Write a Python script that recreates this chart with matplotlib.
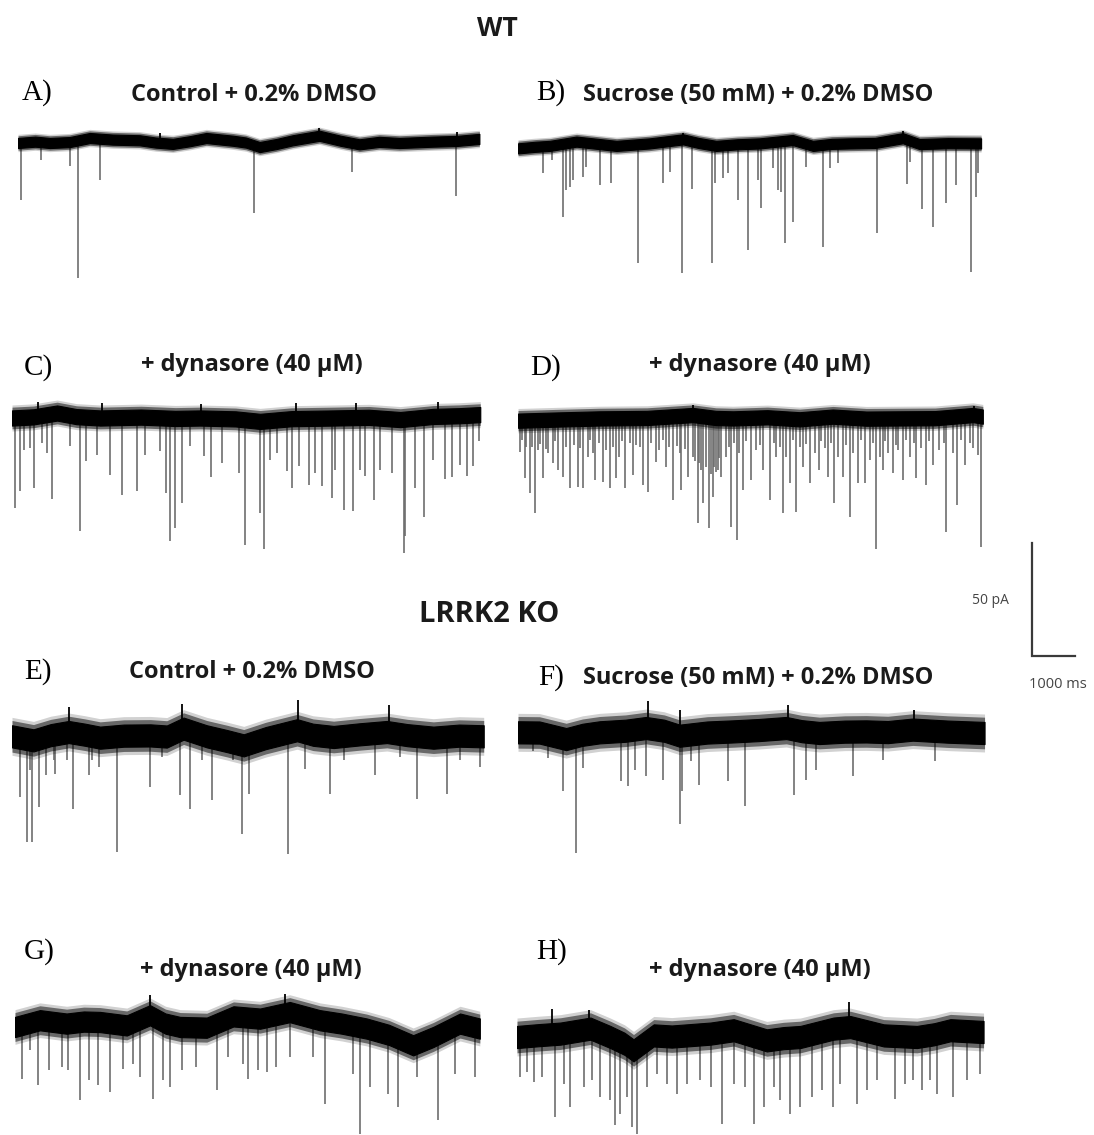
import numpy as np
import matplotlib
matplotlib.use("Agg")
import matplotlib.pyplot as plt

W, H = 1094, 1135
PX_PER_S = 43.0     # 1000 ms scale bar length in pixels
PX_PER_PA = 2.26    # 50 pA scale bar length / 50

# ---- data (time in s, current in pA) ----
# baseline drift (t, pA), noise half-width, events (t, depth), upward blips (t, height)
a_drift_t = [0, 0.4, 0.74, 1.2, 1.67, 2.2, 2.83, 3.2, 3.60, 4.0, 4.38, 5.0, 5.3, 5.62, 6.0,
             6.39, 7.01, 7.5, 7.94, 8.4, 8.87, 9.65, 10.2, 10.73]
a_drift_v = [0, 0.6, 0, 0.4, 2.2, 1.5, 1.2, 0.2, -0.4, 0.8, 2.2, 1.0, 0.2, -1.8, -0.5,
             1.2, 3.2, 1.0, -0.6, 0.5, 0, 0.6, 0.9, 1.8]
a_ev_t = [0.08, 0.54, 1.20, 1.40, 1.90, 5.48, 7.77, 10.19]
a_ev_amp = [25.1, 7.4, 10.3, 59.7, 16.5, 31.0, 13.0, 23.3]
a_up_t = [3.3, 7.0, 10.2]
a_up_amp = [4.5, 6.5, 5.0]

b_drift_t = [0, 0.4, 0.74, 1.36, 1.8, 2.29, 3.06, 3.84, 4.2, 4.61, 5.1, 5.62, 6.39, 6.86,
             7.3, 7.71, 8.3, 8.95, 9.34, 10.0, 10.77]
b_drift_v = [-1.5, -0.8, -0.4, 1.5, 0.6, -0.4, 0.7, 2.5, 0.9, -0.4, 0.3, 0.7, 2.2, -0.4,
             0.5, 0.7, 0.9, 3.0, 0.4, 0.8, 0.7]
b_ev_t = [0.58, 0.78, 1.05, 1.12, 1.20, 1.28, 1.51, 1.59, 1.90, 2.17, 2.79, 3.37, 3.53, 3.82,
          4.05, 4.50, 4.57, 4.77, 4.88, 5.12, 5.35, 5.58, 5.66, 5.93, 6.05, 6.12, 6.20, 6.39,
          6.70, 7.09, 7.25, 7.44, 8.35, 9.04, 9.12, 9.40, 9.64, 9.96, 10.19, 10.54, 10.64, 10.70]
b_ev_amp = [12.5, 6.6, 31.7, 19.9, 18.4, 15.5, 14.0, 9.6, 17.7, 16.7, 52.1, 17.0, 11.8, 56.8,
            19.6, 52.4, 17.0, 14.8, 12.5, 24.3, 46.5, 15.5, 28.0, 10.3, 19.9, 20.7, 43.5, 33.9,
            9.6, 45.3, 10.3, 8.1, 39.1, 17.3, 7.4, 28.5, 36.4, 25.5, 17.7, 56.1, 22.9, 12.5]
b_up_t = [3.84, 8.95]
b_up_amp = [5.5, 6.0]

c_drift_t = [0, 0.5, 1.05, 1.5, 2.05, 3.0, 3.8, 4.38, 5.2, 5.77, 6.5, 7.48, 8.3, 9.03,
             9.80, 10.4, 10.89]
c_drift_v = [0, 0.5, 2.2, 0.6, 0, 0.4, -0.2, 0, -0.4, -1.5, -0.3, 0, 0.3, -0.7,
             0.7, 1.0, 1.5]
c_ev_t = [0.08, 0.19, 0.27, 0.43, 0.50, 0.70, 0.81, 0.93, 1.36, 1.59, 1.71, 1.98, 2.29, 2.56,
          2.91, 3.10, 3.45, 3.57, 3.68, 3.80, 3.95, 4.15, 4.46, 4.63, 4.88, 5.27, 5.43, 5.77,
          5.85, 6.01, 6.16, 6.39, 6.51, 6.67, 6.90, 7.05, 7.21, 7.44, 7.52, 7.71, 7.94, 8.10,
          8.22, 8.41, 8.56, 8.84, 9.11, 9.15, 9.38, 9.57, 9.80, 10.08, 10.23, 10.42, 10.58,
          10.73, 10.85]
c_ev_amp = [39.8, 32.5, 14.0, 13.3, 31.0, 11.1, 15.5, 35.8, 12.5, 50.2, 19.2, 16.2, 25.1, 33.9,
            32.5, 16.2, 14.8, 33.2, 54.6, 48.7, 37.6, 12.5, 17.0, 26.1, 19.9, 24.3, 56.1, 42.0,
            58.0, 18.4, 15.5, 23.6, 31.0, 21.4, 29.5, 24.3, 30.2, 35.4, 22.9, 40.6, 41.3, 22.9,
            25.8, 36.1, 22.9, 24.3, 59.7, 52.4, 31.0, 43.8, 18.4, 27.0, 26.1, 20.7, 25.8,
            21.4, 10.3]
c_up_t = [0.6, 2.1, 4.4, 6.6, 8.0, 9.9]
c_up_amp = [7.0, 6.5, 6.0, 6.5, 6.5, 7.0]

d_drift_t = [0, 0.9, 1.9, 3.0, 4.07, 4.6, 5.0, 5.8, 6.55, 7.32, 8.1, 8.87, 9.7, 10.58, 10.81]
d_drift_v = [-0.3, 0.2, 0.7, 0.9, 2.2, 0.9, 0.7, 1.2, 0.3, 1.5, 0.6, 0.7, 0.8, 2.2, 1.5]
d_ev_t = [0.04, 0.16, 0.27, 0.39, 0.58, 0.81, 0.93, 1.05, 1.20, 1.40, 1.51, 1.63, 1.78, 1.98,
          2.13, 2.29, 2.48, 2.67, 2.91, 3.02, 3.22, 3.45, 3.60, 3.80, 3.95, 4.19, 4.30, 4.44,
          4.53, 4.65, 4.96, 5.09, 5.23, 5.43, 5.70, 5.85, 6.16, 6.32, 6.46, 6.63, 6.78, 7.01,
          7.21, 7.34, 7.56, 7.73, 7.91, 8.06, 8.33, 8.49, 8.72, 8.95, 9.26, 9.48, 9.65, 9.96,
          10.21, 10.39, 10.58, 10.77,
          0.19, 0.47, 0.70, 1.12, 1.74, 2.05, 2.36, 2.60, 2.83, 3.29, 3.76, 4.07, 4.22, 4.38,
          4.60, 4.73, 4.84, 5.15, 5.54, 6.01, 6.24, 6.55, 6.90, 7.13, 7.44, 7.79, 8.18, 8.41,
          8.60, 8.84, 9.11, 9.38, 9.80, 10.11, 10.50, 10.70,
          0.10, 0.33, 0.52, 0.64, 0.87, 1.30, 1.45, 1.68, 1.88, 2.20, 2.42, 2.75, 3.10, 3.38,
          3.52, 3.70, 3.88, 4.12, 4.26, 4.48, 4.56, 4.68, 4.90, 5.02, 5.30, 5.62, 5.95, 6.10,
          6.40, 6.70, 7.05, 7.28, 7.62, 7.97, 8.25, 8.54, 8.78, 9.02, 9.20, 9.55, 9.90, 10.30]
d_ev_amp = [14.0, 25.8, 32.5, 41.3, 25.8, 19.2, 22.1, 25.1, 30.2, 29.5, 30.2, 16.2, 26.6, 27.3,
            30.2, 25.8, 30.2, 24.3, 28.8, 31.7, 18.4, 20.7, 35.4, 31.0, 25.1, 45.7, 36.9, 47.9,
            33.9, 22.1, 47.2, 53.1, 31.0, 26.6, 22.1, 35.4, 41.3, 28.0, 40.6, 20.7, 28.0, 22.1,
            25.1, 36.9, 25.1, 42.8, 28.0, 28.0, 57.2, 22.1, 23.6, 26.6, 25.8, 28.8, 19.9, 49.4,
            37.6, 19.9, 12.5, 56.1,
            11.8, 13.3, 14.8, 11.8, 14.8, 13.3, 16.2, 10.3, 11.8, 13.3, 14.8, 16.2, 19.2, 20.7,
            22.9, 25.1, 16.2, 14.8, 13.3, 16.2, 16.2, 11.8, 14.8, 12.5, 16.2, 14.8, 17.7, 16.2,
            14.8, 13.3, 16.2, 12.5, 13.3, 14.8, 10.3, 15.5,
            9.0, 12.0, 10.5, 13.0, 9.5, 11.0, 12.5, 9.0, 10.0, 12.0, 9.5, 11.0, 10.0, 9.0,
            12.0, 11.5, 13.0, 18.0, 22.0, 24.0, 21.0, 17.0, 12.0, 10.0, 9.5, 11.0, 10.0, 12.0,
            9.0, 10.5, 9.5, 10.0, 11.0, 9.0, 10.0, 9.5, 11.0, 9.0, 10.0, 9.5, 10.0, 9.0]
d_up_t = [4.07, 10.6]
d_up_amp = [6.5, 6.0]

e_drift_t = [0, 0.5, 0.9, 1.32, 1.7, 2.05, 2.6, 3.22, 3.6, 3.99, 4.53, 5.0, 5.39, 5.9,
             6.63, 7.0, 7.48, 8.1, 8.72, 9.2, 9.80, 10.4, 10.97]
e_drift_v = [0.3, -1.5, 0.8, 2.2, 1.0, -0.3, 0.6, 0.7, 0.2, 3.7, 0.3, -1.8, -3.7, -0.5,
             3.0, 1.0, 0, 1.2, 2.2, 0.8, -0.3, 0.6, 0.3]
e_ev_t = [0.19, 0.35, 0.43, 0.47, 0.62, 0.78, 1.01, 1.43, 1.78, 2.02, 2.44, 3.22, 3.91, 4.15,
          4.65, 5.35, 5.50, 6.43, 6.82, 7.40, 8.45, 9.42, 10.11, 10.89,
          0.97, 1.28, 1.86, 3.49, 4.42, 5.15, 7.71, 9.03, 10.42]
e_ev_amp = [26.6, 46.5, 14.8, 46.5, 31.0, 17.0, 16.2, 31.7, 17.0, 13.3, 50.9, 22.1, 25.8, 31.7,
            28.0, 42.8, 25.1, 51.6, 14.0, 25.1, 17.0, 27.3, 25.1, 13.3,
            10.3, 10.3, 10.3, 8.9, 10.3, 10.3, 10.3, 8.9, 10.3]
e_up_t = [1.32, 3.95, 6.65, 8.76]
e_up_amp = [13.3, 14.8, 16.2, 14.0]

f_drift_t = [0, 0.5, 1.12, 1.5, 1.90, 2.5, 2.98, 3.4, 3.76, 4.4, 5.0, 5.6, 6.24, 6.6,
             7.01, 7.6, 8.1, 8.6, 9.18, 10.0, 10.85]
f_drift_v = [0.3, 0.2, -2.7, -0.8, 0.3, 1.0, 2.2, 1.0, -1.2, 0.2, 0.7, 1.3, 2.2, 0.8,
             0, 0.6, 0.7, 0.4, 1.5, 0.6, 0]
f_ev_t = [0.35, 0.70, 1.05, 1.34, 1.51, 2.40, 2.56, 2.71, 2.98, 3.37, 3.76, 3.82, 4.03, 4.22,
          4.88, 5.27, 6.43, 6.70, 6.92, 7.79, 8.49, 9.69]
f_ev_amp = [8.1, 11.1, 25.8, 53.1, 15.5, 21.4, 23.6, 16.2, 19.2, 20.7, 40.1, 25.8, 12.5, 22.9,
            21.4, 32.5, 27.3, 20.7, 16.2, 19.2, 11.8, 12.5]
f_up_t = [3.02, 3.76, 6.28, 9.22]
f_up_amp = [14.0, 10.3, 12.5, 10.3]

g_drift_t = [0, 0.58, 1.2, 1.6, 1.98, 2.6, 3.14, 3.5, 3.84, 4.46, 5.08, 5.7, 6.39, 7.09,
             7.6, 8.18, 8.7, 9.26, 9.73, 10.35, 10.81]
g_drift_v = [0, 3.0, 1.5, 2.4, 2.2, 0.7, 5.2, 1.5, 0, -0.3, 4.7, 3.7, 6.6, 3.0,
             1.5, -0.7, -3.5, -8.1, -4.4, 1.5, -0.7]
g_ev_t = [0.16, 0.35, 0.54, 0.78, 1.09, 1.24, 1.51, 1.71, 1.94, 2.21, 2.52, 2.75, 2.91, 3.20,
          3.45, 3.60, 3.88, 4.22, 4.69, 4.96, 5.31, 5.43, 5.66, 5.85, 6.08, 6.39, 6.94, 7.21,
          7.87, 8.02, 8.25, 8.68, 8.91, 9.34, 9.84, 10.23, 10.70]
g_ev_amp = [22.9, 10.3, 25.8, 19.2, 17.7, 19.2, 32.5, 23.6, 25.8, 28.8, 18.4, 16.2, 22.1, 31.7,
            23.6, 26.6, 19.2, 17.7, 28.0, 13.3, 16.2, 22.9, 19.2, 19.9, 17.7, 13.3, 13.3, 33.9,
            20.7, 47.2, 26.6, 29.5, 35.4, 22.1, 41.3, 20.7, 22.1]
g_up_t = [3.14, 6.28]
g_up_amp = [14.0, 14.8]

h_drift_t = [0, 0.5, 1.01, 1.71, 2.17, 2.5, 2.71, 3.18, 3.6, 3.95, 4.5, 5.04, 5.81, 6.2,
             6.59, 7.36, 7.75, 8.53, 9.3, 9.7, 10.08, 10.85]
h_drift_v = [0, 0.8, 1.5, 3.7, 0, -3.0, -5.9, 0.7, 0.2, 0.7, 1.5, 3.0, -1.5, -0.5,
             0, 3.7, 4.4, 0.7, 0, 1.2, 3.0, 2.2]
h_ev_t = [0.08, 0.23, 0.39, 0.58, 0.89, 1.09, 1.24, 1.55, 1.74, 1.94, 2.17, 2.29, 2.40, 2.56,
          2.67, 2.79, 3.02, 3.26, 3.49, 3.72, 3.95, 4.26, 4.50, 4.77, 5.04, 5.31, 5.50, 5.74,
          5.97, 6.12, 6.36, 6.59, 6.86, 7.09, 7.36, 7.52, 7.91, 8.14, 8.37, 8.80, 9.03, 9.22,
          9.42, 9.61, 9.77, 10.15, 10.46, 10.77]
h_ev_amp = [17.7, 15.5, 19.9, 17.7, 35.4, 20.7, 31.0, 22.1, 19.2, 26.6, 28.0, 39.1, 33.9, 26.6,
            39.8, 42.8, 22.1, 16.2, 20.7, 25.1, 20.7, 19.2, 22.1, 38.4, 20.7, 22.1, 38.4, 31.0,
            22.1, 28.0, 33.9, 31.0, 26.6, 23.6, 31.0, 20.7, 29.5, 23.6, 19.2, 27.3, 20.7, 19.2,
            23.6, 19.2, 25.1, 26.6, 19.2, 16.2]
h_up_t = [0.81, 1.67, 7.71]
h_up_amp = [12.5, 11.8, 15.5]

noise = {"A": 3.2, "B": 3.2, "C": 4.8, "D": 4.5, "E": 7.0, "F": 7.0, "G": 6.4, "H": 7.0}

letters = ["A)", "B)", "C)", "D)", "E)", "F)", "G)", "H)"]
subtitles = ["Control + 0.2% DMSO", "Sucrose (50 mM) + 0.2% DMSO",
             "+ dynasore (40 \u00b5M)", "+ dynasore (40 \u00b5M)",
             "Control + 0.2% DMSO", "Sucrose (50 mM) + 0.2% DMSO",
             "+ dynasore (40 \u00b5M)", "+ dynasore (40 \u00b5M)"]

traces = {
    "A": (a_drift_t, a_drift_v, a_ev_t, a_ev_amp, a_up_t, a_up_amp),
    "B": (b_drift_t, b_drift_v, b_ev_t, b_ev_amp, b_up_t, b_up_amp),
    "C": (c_drift_t, c_drift_v, c_ev_t, c_ev_amp, c_up_t, c_up_amp),
    "D": (d_drift_t, d_drift_v, d_ev_t, d_ev_amp, d_up_t, d_up_amp),
    "E": (e_drift_t, e_drift_v, e_ev_t, e_ev_amp, e_up_t, e_up_amp),
    "F": (f_drift_t, f_drift_v, f_ev_t, f_ev_amp, f_up_t, f_up_amp),
    "G": (g_drift_t, g_drift_v, g_ev_t, g_ev_amp, g_up_t, g_up_amp),
    "H": (h_drift_t, h_drift_v, h_ev_t, h_ev_amp, h_up_t, h_up_amp),
}

# layout: trace start x and baseline y in pixels
trace_pos = {"A": (18, 143), "B": (518, 145), "C": (12, 418), "D": (518, 420),
             "E": (12, 737), "F": (518, 733), "G": (15, 1027), "H": (517, 1037)}
letter_pos = [(22, 93), (536, 93), (24, 368), (530, 368),
              (24, 672), (538, 678), (24, 952), (536, 952)]
sub_pos = [(254, 95), (758, 95), (252, 365), (760, 365),
           (252, 672), (758, 678), (251, 970), (760, 970)]

fig = plt.figure(figsize=(W / 100, H / 100), dpi=100)
fig.patch.set_facecolor("white")


def px_axes(left, top, width, height):
    ax = fig.add_axes([left / W, 1 - (top + height) / H, width / W, height / H])
    ax.set_axis_off()
    return ax


def ftext(x, y, s, **kw):
    fig.text(x / W, 1 - y / H, s, **kw)


above, below = 45, 160
for key, (dt, dv, et, ea, ut, ua) in traces.items():
    x0, yb = trace_pos[key]
    dur = dt[-1]
    ax = px_axes(x0, yb - above, dur * PX_PER_S + 6, above + below)
    ax.set_xlim(0, (dur * PX_PER_S + 6) / PX_PER_S)
    ax.set_ylim(-below / PX_PER_PA, above / PX_PER_PA)
    dt = np.array(dt)
    dv = np.array(dv)
    n = noise[key]
    et = np.array(et)
    base_e = np.interp(et, dt, dv)
    ax.vlines(et, base_e, -np.array(ea), color="0.42", lw=1.3, alpha=0.9, zorder=2)
    if ut:
        ut = np.array(ut)
        ax.vlines(ut, np.interp(ut, dt, dv), ua, color="black", lw=1.3, zorder=3)
    # fuzzy noise envelope: solid core and softer fringe
    ax.fill_between(dt, dv - 1.2 * n, dv + 1.2 * n, color="black", alpha=0.18, lw=0, zorder=3)
    ax.fill_between(dt, dv - n, dv + n, color="black", alpha=0.5, lw=0, zorder=3)
    ax.fill_between(dt, dv - 0.7 * n, dv + 0.7 * n, color="black", lw=0.8, zorder=4)

# scale bar (50 pA, 1000 ms)
sb = px_axes(1020, 530, 70, 140)
sb.set_xlim(-12 / PX_PER_S, 58 / PX_PER_S)
sb.set_ylim(-14 / PX_PER_PA, 126 / PX_PER_PA)
sb.plot([0, 0, 1.0], [50, 0, 0], color="#3a3a3a", lw=1.6, solid_joinstyle="miter")
ftext(990, 601, "50 pA", fontsize=10, ha="center", va="center", color="#444444",
      family="Open Sans")
ftext(1058, 684, "1000 ms", fontsize=10.5, ha="center", va="center", color="#444444",
      family="Open Sans")

ftext(497, 28, "WT", fontsize=19, fontweight="bold", ha="center", va="center",
      family="Open Sans", color="#1a1a1a")
ftext(489, 614, "LRRK2 KO", fontsize=21, fontweight="bold", ha="center", va="center",
      family="Open Sans", color="#1a1a1a")

for (lx, ly), lab in zip(letter_pos, letters):
    ftext(lx, ly, lab, fontsize=21, ha="left", va="center", family="Liberation Serif",
          color="black")
for (sx, sy), sub in zip(sub_pos, subtitles):
    ftext(sx, sy, sub, fontsize=17, fontweight="bold", ha="center", va="center",
          family="Open Sans", color="#1a1a1a")

fig.savefig("out.png", dpi=100, facecolor="white")
